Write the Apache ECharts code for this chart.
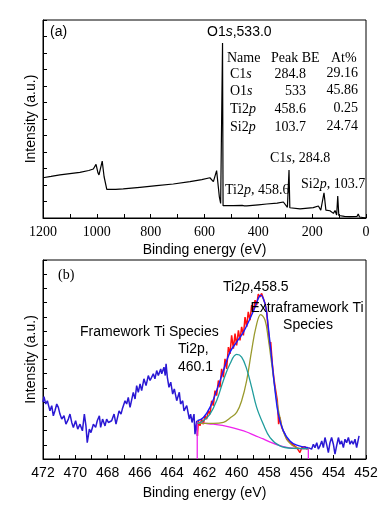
<!DOCTYPE html>
<html>
<head>
<meta charset="utf-8">
<script src="https://cdn.jsdelivr.net/npm/echarts@6/dist/echarts.min.js"></script>
<style>
  html, body { margin: 0; padding: 0; background: #fff; }
  #chart { width: 387px; height: 514px; }
</style>
</head>
<body>
<div id="chart"></div>
<script>
/* (a) survey spectrum */
const surveyBE = [1200, 1170, 1137, 1100, 1063, 1030, 1013, 1003, 996, 992, 980, 973, 963, 930, 902, 840, 778, 716, 654, 610,
  580, 567, 555, 545, 540, 535, 533, 531, 525, 493, 460, 456, 452, 443, 400, 369, 330, 307, 301, 292,
  286, 283, 280, 245, 196, 177, 168, 156, 149, 134, 121, 115, 109, 105, 101, 99, 80, 59, 33, 29, 24, 20, 0];
const surveyI = [2.44, 2.52, 2.61, 2.69, 2.77, 2.88, 2.97, 3.25, 2.75, 2.61, 3.45, 2.5, 1.74, 1.74, 1.76, 1.86, 1.96, 2.06, 2.2, 2.33,
  2.44, 2.2, 2.87, 1.3, 0.88, 0.9, 10.6, 0.75, 0.72, 0.75, 0.76, 0.84, 0.74, 0.73, 0.8, 0.85, 0.9, 0.97, 1.05, 0.65,
  2.91, 0.62, 0.59, 0.55, 0.63, 0.73, 0.48, 1.53, 0.48, 0.44, 0.28, 0.45, 0.18, 1.33, 0.15, 0.12, 0.1, 0.08, 0.1, 0.24, 0.06, 0.04, 0.0];

/* table in (a) */
const tableNames = [['C1', 's'], ['O1', 's'], ['Ti2', 'p'], ['Si2', 'p']];
const tablePeakBE = ['284.8', '533', '458.6', '103.7'];
const tableAt = ['29.16', '45.86', '0.25', '24.74'];

/* (b) Ti2p region: raw data outside the fit window (blue) */
const rawLeftBE = [472.0, 471.94, 471.83, 471.73, 471.57, 471.46, 471.36, 471.26, 471.15, 471.05, 470.95,
  470.84, 470.70, 470.58, 470.43, 470.33, 470.22, 470.12, 469.98, 469.85, 469.71,
  469.56, 469.44, 469.34, 469.26, 469.13, 469.03, 468.88, 468.74, 468.64, 468.51,
  468.43, 468.31, 468.16, 468.06, 467.95, 467.75, 467.60, 467.48, 467.29, 467.17,
  467.09, 466.92, 466.82, 466.72, 466.61, 466.41, 466.30, 466.20, 466.10, 465.99,
  465.89, 465.75, 465.62, 465.48, 465.37, 465.17, 465.07, 464.96, 464.86, 464.71,
  464.65, 464.51, 464.43, 464.38, 464.30, 464.20, 464.09, 463.97, 463.87, 463.72,
  463.56, 463.48, 463.35, 463.27, 463.10, 462.94, 462.86, 462.77, 462.65, 462.59, 462.48, 462.44];
const rawLeftI = [4.0, 4.38, 3.87, 4.10, 3.39, 3.75, 3.04, 3.39, 3.87, 3.63, 3.16,
  2.81, 3.04, 2.45, 2.81, 3.16, 2.57, 2.22, 2.69, 2.10, 2.45,
  1.98, 3.16, 2.33, 1.15, 2.10, 1.86, 2.45, 2.22, 2.69, 3.04,
  2.22, 2.81, 2.33, 2.81, 2.57, 2.69, 3.16, 2.45, 3.39, 3.16,
  3.51, 4.10, 3.87, 4.34, 3.63, 4.69, 4.22, 5.16, 4.69, 5.28,
  4.81, 5.64, 5.16, 5.87, 5.52, 5.99, 5.64, 6.22, 5.87, 6.34,
  5.99, 6.46, 5.87, 6.70, 5.75, 5.04, 5.40, 4.57, 4.93, 4.10,
  4.69, 3.87, 4.10, 3.39, 3.75, 2.81, 3.16, 2.57, 3.16, 1.75, 2.69, 1.63];
const rawRightBE = [455.57, 455.47, 455.37, 455.26, 455.16, 455.05, 454.95, 454.85, 454.74, 454.64, 454.54,
  454.44, 454.33, 454.23, 454.13, 454.02, 453.92, 453.82, 453.71, 453.61, 453.51,
  453.40, 453.30, 453.20, 453.09, 452.99, 452.89, 452.79, 452.68, 452.58, 452.43];
const rawRightI = [0.80, 0.92, 0.69, 1.04, 0.80, 1.15, 0.69, 0.92, 1.27, 0.80, 1.51,
  1.04, 0.45, 1.15, 1.51, 1.04, 0.35, 0.92, 1.51, 1.04, 1.27,
  0.80, 1.39, 1.15, 1.51, 1.04, 1.27, 1.04, 1.39, 0.80, 1.63];

/* raw data inside the fit window (red) */
const fitRawBE = [462.44, 462.38, 462.28, 462.18, 462.07, 461.97, 461.87, 461.76, 461.66, 461.56,
  461.45, 461.35, 461.25, 461.14, 461.04, 460.94, 460.83, 460.73, 460.63, 460.52,
  460.42, 460.32, 460.21, 460.11, 460.01, 459.90, 459.80, 459.70, 459.59, 459.49,
  459.39, 459.29, 459.18, 459.08, 458.98, 458.87, 458.77, 458.67, 458.56, 458.46,
  458.36, 458.25, 458.15, 458.05, 457.94, 457.90, 457.80, 457.70, 457.59, 457.49,
  457.41, 457.33, 457.22, 457.12, 457.02, 456.91, 456.81, 456.71, 456.60, 456.50,
  456.40, 456.29, 456.19, 456.09, 455.98, 455.88, 455.78, 455.67, 455.57];
const fitRawI = [1.63, 2.69, 2.33, 2.81, 2.45, 3.04, 2.81, 3.39, 3.16, 4.10,
  3.75, 4.81, 4.46, 5.52, 5.04, 6.34, 5.75, 7.05, 6.34, 7.87,
  7.40, 8.70, 7.76, 8.82, 7.99, 9.05, 8.35, 9.29, 8.70, 9.99,
  9.29, 10.35, 9.76, 10.82, 10.35, 11.17, 10.82, 11.60, 11.41, 11.65,
  11.29, 10.94, 10.35, 9.05, 7.87, 8.23, 6.70, 5.64, 4.81, 4.10,
  2.45, 2.92, 2.22, 1.98, 1.75, 1.39, 1.51, 1.15, 1.27, 0.99,
  1.08, 0.80, 0.92, 0.45, 0.80, 0.69, 0.87, 0.69, 0.80];

/* fitted envelope, components and background */
const envBE = [462.44, 462.07, 461.66, 461.25, 460.83, 460.42, 460.01, 459.59, 459.18, 458.87, 458.67,
  458.52, 458.36, 458.19, 458.05, 457.84, 457.63, 457.43, 457.12, 456.71, 456.29, 455.57];
const envI = [2.69, 2.92, 3.63, 4.81, 6.22, 7.52, 8.23, 8.93, 9.88, 10.70, 11.29,
  11.53, 11.29, 10.59, 9.29, 7.05, 4.81, 3.16, 1.98, 1.27, 0.97, 0.80];
const frameworkBE = [462.44, 462.07, 461.66, 461.25, 460.83, 460.42, 460.01, 459.70, 459.39, 459.08,
  458.77, 458.36, 457.94, 457.33, 456.50, 455.57];
const frameworkI = [2.50, 2.69, 3.16, 4.10, 5.52, 6.70, 7.36, 7.17, 6.34, 5.04,
  3.63, 2.45, 1.51, 0.92, 0.75, 0.73];
const extraBE = [462.44, 461.45, 460.83, 460.42, 460.01, 459.70, 459.39, 459.08, 458.81, 458.52,
  458.25, 458.05, 457.84, 457.59, 457.33, 457.02, 456.60, 456.09, 455.57];
const extraI = [2.50, 2.50, 2.57, 2.88, 3.28, 4.10, 5.52, 7.64, 9.29, 10.16,
  9.76, 8.46, 6.70, 4.57, 2.92, 1.63, 0.99, 0.75, 0.73];
const bgBE = [462.45, 462.45, 461.9, 461.45, 460.9, 460.42, 459.9, 459.39, 458.9, 458.36,
  457.85, 457.33, 456.9, 456.5, 456.0, 455.57, 455.57];
const bgI = [0, 2.55, 2.50, 2.45, 2.36, 2.24, 2.08, 1.90, 1.66, 1.41,
  1.15, 0.94, 0.82, 0.76, 0.73, 0.72, 0];

const SANS = '"Liberation Sans", Arial, sans-serif';
const SERIF = '"Liberation Serif", "Times New Roman", serif';

function pairs(xs, ys) {
  return xs.map((x, i) => [x, ys[i]]);
}

// text with optional italic pieces: parts = [[str, italic], ...]
function label(x, y, parts, family, align) {
  const rich = {
    n: { fontFamily: family, fontSize: 14, fill: '#000' },
    i: { fontFamily: family, fontSize: 14, fontStyle: 'italic', fill: '#000' },
  };
  const text = parts.map(p => '{' + (p[1] ? 'i' : 'n') + '|' + p[0] + '}').join('');
  return {
    type: 'text', x, y, z: 100,
    style: {
      text, rich, fontFamily: family, fontSize: 14, fill: '#000',
      align: align || 'left', textAlign: align || 'left',
      verticalAlign: 'middle', textVerticalAlign: 'middle',
    },
  };
}

const axisCommon = {
  axisLine: { onZero: false, lineStyle: { color: '#000', width: 1 } },
  axisTick: { inside: true, length: 4, lineStyle: { color: '#000' } },
  splitLine: { show: false },
  nameLocation: 'middle',
  nameTextStyle: { fontFamily: SANS, fontSize: 14, color: '#000' },
};

// table rows
const tableRowsY = [74, 91, 109, 127];
const tableGraphics = [
  label(227, 58, [['Name', false]], SERIF),
  label(271, 58, [['Peak BE', false]], SERIF),
  label(331, 58, [['At%', false]], SERIF),
];
tableNames.forEach((n, i) => {
  tableGraphics.push(label(230, tableRowsY[i], [[n[0], false], [n[1], true]], SERIF));
  tableGraphics.push(label(306, tableRowsY[i], [[tablePeakBE[i], false]], SERIF, 'right'));
  tableGraphics.push(label(358, tableRowsY[i] - 1, [[tableAt[i], false]], SERIF, 'right'));
});

const chart = echarts.init(document.getElementById('chart'), null, { renderer: 'canvas' });
chart.setOption({
  animation: false,
  backgroundColor: '#fff',
  grid: [
    { left: 43, top: 20, width: 323, height: 198, show: true, borderColor: '#000', borderWidth: 1 },
    { left: 43, top: 260, width: 323, height: 199, show: true, borderColor: '#000', borderWidth: 1 },
  ],
  xAxis: [
    Object.assign({}, axisCommon, {
      gridIndex: 0, type: 'value', min: 0, max: 1200, interval: 100, inverse: true,
      name: 'Binding energy (eV)', nameGap: 25,
      axisLabel: {
        margin: 7, fontFamily: SERIF, fontSize: 14, color: '#000',
        formatter: v => (v % 200 === 0 ? String(v) : ''),
      },
    }),
    Object.assign({}, axisCommon, {
      gridIndex: 1, type: 'value', min: 452, max: 472, interval: 1, inverse: true,
      name: 'Binding energy (eV)', nameGap: 27,
      axisLabel: {
        margin: 7, fontFamily: SANS, fontSize: 14, color: '#000',
        formatter: v => (v % 2 === 0 ? String(v) : ''),
      },
    }),
  ],
  yAxis: [
    Object.assign({}, axisCommon, {
      gridIndex: 0, type: 'value', min: 0, max: 12, interval: 1,
      name: 'Intensity (a.u.)', nameGap: 5,
      axisLabel: { show: false },
    }),
    Object.assign({}, axisCommon, {
      gridIndex: 1, type: 'value', min: 0, max: 14, interval: 1,
      name: 'Intensity (a.u.)', nameGap: 5,
      axisLabel: { show: false },
    }),
  ],
  series: [
    {
      type: 'line', xAxisIndex: 0, yAxisIndex: 0, data: pairs(surveyBE, surveyI),
      showSymbol: false, lineStyle: { color: '#000', width: 1.2 },
    },
    {
      type: 'line', xAxisIndex: 1, yAxisIndex: 1, data: pairs(rawLeftBE, rawLeftI),
      showSymbol: false, lineStyle: { color: '#2a18d4', width: 1.5 },
    },
    {
      type: 'line', xAxisIndex: 1, yAxisIndex: 1, data: pairs(rawRightBE, rawRightI),
      showSymbol: false, lineStyle: { color: '#2a18d4', width: 1.5 },
    },
    {
      type: 'line', xAxisIndex: 1, yAxisIndex: 1, data: pairs(fitRawBE, fitRawI),
      showSymbol: false, lineStyle: { color: '#ff1010', width: 1.5 },
    },
    {
      type: 'line', xAxisIndex: 1, yAxisIndex: 1, data: pairs(bgBE, bgI),
      showSymbol: false, smooth: 0.3, lineStyle: { color: '#ee22ee', width: 1.3 },
    },
    {
      type: 'line', xAxisIndex: 1, yAxisIndex: 1, data: pairs(extraBE, extraI),
      showSymbol: false, smooth: 0.4, lineStyle: { color: '#9a9a2e', width: 1.3 },
    },
    {
      type: 'line', xAxisIndex: 1, yAxisIndex: 1, data: pairs(frameworkBE, frameworkI),
      showSymbol: false, smooth: 0.4, lineStyle: { color: '#1f9c9c', width: 1.3 },
    },
    {
      type: 'line', xAxisIndex: 1, yAxisIndex: 1, data: pairs(envBE, envI),
      showSymbol: false, smooth: 0.4, lineStyle: { color: '#1a1aff', width: 1.4 },
    },
  ],
  graphic: [
    label(50, 32, [['(a)', false]], SANS),
    label(207, 32, [['O1', false], ['s', true], [',533.0', false]], SANS),
    label(270, 158, [['C1', false], ['s', true], [', 284.8', false]], SERIF),
    label(225, 190, [['Ti2', false], ['p', true], [', 458.6', false]], SERIF),
    label(301, 184, [['Si2', false], ['p', true], [', 103.7', false]], SERIF),
    ...tableGraphics,
    label(58, 275, [['(b)', false]], SERIF),
    label(223, 287, [['Ti2', false], ['p', true], [',458.5', false]], SANS),
    label(307, 308, [['Extraframework Ti', false]], SANS, 'center'),
    label(308, 325, [['Species', false]], SANS, 'center'),
    label(80, 332, [['Framework Ti Species', false]], SANS),
    label(178, 349, [['Ti2p,', false]], SANS),
    label(178, 367, [['460.1', false]], SANS),
  ],
});
</script>
</body>
</html>
